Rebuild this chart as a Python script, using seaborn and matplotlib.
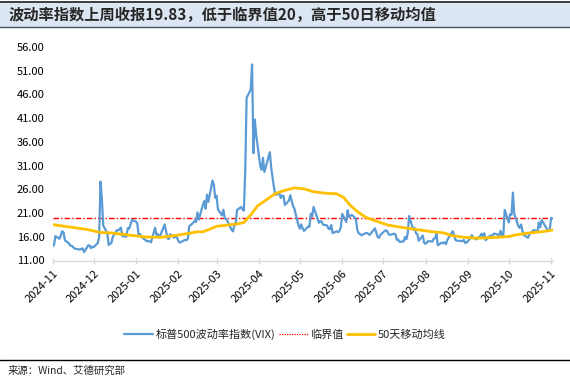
import matplotlib
matplotlib.use('Agg')
import matplotlib.pyplot as plt
import matplotlib.dates as mdates
from matplotlib.lines import Line2D
from matplotlib.patches import Rectangle
import numpy as np
import pandas as pd
import seaborn as sns

# VIX daily close, one list per month (2024-11-13 .. 2025-11-14)
vix_2024_11 = [14.02, 14.31, 16.14, 15.58, 16.35, 17.16, 16.87, 15.24, 14.60, 14.10, 14.10, 13.51]
vix_2024_12 = [13.34, 13.30, 13.45, 13.54, 12.77, 14.19, 14.18, 13.58, 13.92, 13.81, 14.69, 15.87,
               27.62, 24.09, 18.36, 16.78, 14.27, 14.73, 15.95, 17.40, 17.35]
vix_2025_01 = [17.93, 16.13, 16.04, 17.82, 17.70, 19.54, 19.19, 18.71, 16.12, 16.60, 15.97, 15.06,
               15.10, 15.02, 14.85, 17.90, 16.41, 16.56, 15.84, 16.43]
vix_2025_02 = [18.62, 17.21, 15.77, 15.50, 16.54, 15.81, 16.02, 15.89, 15.10, 14.77, 15.35, 15.27,
               15.66, 18.21, 18.98, 19.43, 19.10, 21.13, 19.63]
vix_2025_03 = [22.78, 23.51, 21.93, 24.87, 23.37, 27.86, 26.92, 24.23, 24.66, 21.77, 20.51, 21.70,
               19.90, 19.80, 19.28, 17.48, 17.15, 18.33, 18.69, 21.65, 22.28]
vix_2025_04 = [21.77, 21.51, 30.02, 45.31, 46.98, 52.33, 33.62, 40.72, 37.56, 30.89, 30.12, 32.64,
               29.65, 33.82, 30.57, 28.45, 26.47, 24.84, 25.15, 24.17, 24.70]
vix_2025_05 = [24.60, 22.68, 23.64, 24.76, 23.55, 22.48, 21.90, 18.39, 17.71, 18.62, 17.83, 17.24,
               18.14, 18.09, 20.87, 20.28, 22.29, 18.96, 19.31, 19.18, 18.57]
vix_2025_06 = [18.36, 17.69, 17.61, 18.48, 16.77, 17.16, 16.95, 17.26, 18.02, 20.82, 19.11, 21.60,
               20.14, 20.62, 19.83, 17.48, 16.76, 16.59, 16.32, 16.73]
vix_2025_07 = [16.83, 16.64, 16.38, 17.79, 16.81, 15.94, 15.78, 16.40, 17.20, 17.38, 17.16, 16.52,
               16.41, 16.65, 16.50, 15.37, 15.39, 14.93, 15.03, 15.98, 15.48, 16.72]
vix_2025_08 = [20.38, 17.52, 17.85, 16.77, 16.57, 15.15, 16.25, 14.73, 14.49, 14.83, 15.09, 15.00,
               15.57, 15.69, 16.60, 14.22, 14.79, 14.62, 14.85, 14.43, 15.36]
vix_2025_09 = [17.17, 16.35, 15.30, 15.18, 15.11, 15.04, 15.35, 14.71, 14.76, 15.69, 16.36, 15.72,
               15.70, 15.45, 16.10, 16.64, 16.18, 16.74, 15.29, 16.12, 16.28]
vix_2025_10 = [16.29, 16.63, 16.65, 16.37, 17.24, 16.30, 16.43, 21.66, 19.03, 20.81, 20.64, 25.31,
               20.78, 18.23, 17.87, 18.60, 17.30, 16.37, 15.79, 16.42, 16.92, 16.91, 17.44]
vix_2025_11 = [17.17, 19.00, 18.01, 19.50, 19.08, 17.60, 17.28, 17.51, 20.00, 19.83]

market_holidays = ['2024-11-28', '2024-12-25', '2025-01-01', '2025-01-09', '2025-01-20',
                   '2025-02-17', '2025-04-18', '2025-05-26', '2025-06-19', '2025-07-04',
                   '2025-09-01']

# 50-day moving average
ma_dates = ['2024-11-13', '2024-11-27', '2024-12-09', '2024-12-18', '2024-12-26', '2025-01-07',
            '2025-01-20', '2025-01-31', '2025-02-09', '2025-02-17', '2025-02-27', '2025-03-03',
            '2025-03-08', '2025-03-13', '2025-03-22', '2025-03-28', '2025-04-02', '2025-04-07',
            '2025-04-12', '2025-04-18', '2025-04-25', '2025-05-01', '2025-05-09', '2025-05-16',
            '2025-05-23', '2025-05-31', '2025-06-09', '2025-06-14', '2025-06-19', '2025-06-25',
            '2025-07-01', '2025-07-09', '2025-07-16', '2025-07-26', '2025-08-07', '2025-08-17',
            '2025-08-27', '2025-08-31', '2025-09-10', '2025-09-20', '2025-10-03', '2025-10-13',
            '2025-10-18', '2025-10-28', '2025-11-07', '2025-11-14']
ma_values = [18.55, 18.0, 17.5, 16.9, 16.8, 16.4,
             15.95, 15.9, 16.2, 16.55, 17.05, 17.05,
             17.6, 18.2, 18.5, 18.7, 19.0, 20.6,
             22.5, 23.7, 25.1, 25.7, 26.3, 26.1,
             25.5, 25.2, 25.05, 24.3, 22.6, 21.1,
             20.0, 19.2, 18.5, 18.0, 17.5, 17.1,
             16.8, 16.3, 15.9, 15.7, 15.85, 16.05,
             16.4, 16.8, 17.1, 17.4]

threshold = 20
yticks = [11, 16, 21, 26, 31, 36, 41, 46, 51, 56]

title = '波动率指数上周收报19.83，低于临界值20，高于50日移动均值'
source = '来源：Wind、艾德研究部'
labels = ['标普500波动率指数(VIX)', '临界值', '50天移动均线']

vix = (vix_2024_11 + vix_2024_12 + vix_2025_01 + vix_2025_02 + vix_2025_03 + vix_2025_04 +
       vix_2025_05 + vix_2025_06 + vix_2025_07 + vix_2025_08 + vix_2025_09 + vix_2025_10 + vix_2025_11)
dates = pd.bdate_range('2024-11-13', '2025-11-14', freq='C', holidays=market_holidays)
df = pd.DataFrame({'date': dates, 'vix': vix})
df_ma = pd.DataFrame({'date': pd.to_datetime(ma_dates), 'ma': ma_values})

sns.set_theme(style='white')
plt.rcParams['font.family'] = ['Noto Sans CJK SC', 'DejaVu Sans']
plt.rcParams['axes.unicode_minus'] = False

W, H = 570, 383
fig = plt.figure(figsize=(W / 100, H / 100), dpi=100)
ax = fig.add_axes([52.7 / W, 1 - 260.5 / H, (552.5 - 52.7) / W, (260.5 - 47) / H])

c_blue, c_red, c_yel = '#5b9bd5', '#ff0000', '#ffc000'
sns.lineplot(data=df, x='date', y='vix', ax=ax, color=c_blue, lw=1.6, zorder=3)
ax.axhline(threshold, color=c_red, lw=1.0, ls=(0, (4, 1.5, 1, 1.5)), zorder=2)
sns.lineplot(data=df_ma, x='date', y='ma', ax=ax, color=c_yel, lw=2.0, zorder=4)

ax.set_xlim(pd.Timestamp('2024-11-13'), pd.Timestamp('2025-11-14'))
ax.set_ylim(11, 56)
ax.set_yticks(yticks)
ax.yaxis.set_major_formatter(matplotlib.ticker.FormatStrFormatter('%.2f'))
ax.set_xticks(pd.date_range('2024-11-13', '2025-11-13', freq=pd.DateOffset(months=1)))
ax.xaxis.set_major_formatter(mdates.DateFormatter('%Y-%m'))
ax.set_xlabel('')
ax.set_ylabel('')

for s in ['left', 'top', 'right']:
    ax.spines[s].set_visible(False)
ax.spines['bottom'].set_color('#d9d9d9')
ax.spines['bottom'].set_linewidth(1.0)
ax.tick_params(axis='y', length=0, pad=6, labelsize=8, labelcolor='#000000')
ax.tick_params(axis='x', direction='inout', length=5, width=1, color='#d9d9d9',
               pad=3, labelsize=8, labelcolor='#000000', bottom=True)
for lab in ax.get_xticklabels():
    lab.set_rotation(45)
    lab.set_ha('right')
    lab.set_va('top')
    lab.set_rotation_mode('anchor')

handles = [Line2D([], [], color=c_blue, lw=1.6),
           Line2D([], [], color=c_red, lw=0.9, ls=(0, (1, 1))),
           Line2D([], [], color=c_yel, lw=2.0)]
fig.legend(handles, labels, loc='center', bbox_to_anchor=(0.5, 1 - 334 / H), ncol=3,
           frameon=False, fontsize=8, handlelength=2.6, handletextpad=0.2, columnspacing=0.3)

# title bar
fig.add_artist(Rectangle((0, 1 - 27 / H), 1, 25.5 / H, transform=fig.transFigure,
                         facecolor='#dce6f2', edgecolor='none', zorder=0))
fig.add_artist(Line2D([0, 1], [1 - 1.5 / H] * 2, transform=fig.transFigure, color='#222222', lw=1.2))
fig.add_artist(Line2D([0, 1], [1 - 27 / H] * 2, transform=fig.transFigure, color='#44546a', lw=1.0))
fig.text(9 / W, 1 - 14.5 / H, title, fontsize=11, fontweight='bold', ha='left', va='center')

# source footer
fig.add_artist(Line2D([0, 1], [1 - 360 / H] * 2, transform=fig.transFigure, color='#000000', lw=1.0))
fig.text(8 / W, 1 - 371 / H, source, fontsize=7.5, ha='left', va='center')

plt.savefig('out.png', dpi=100)
